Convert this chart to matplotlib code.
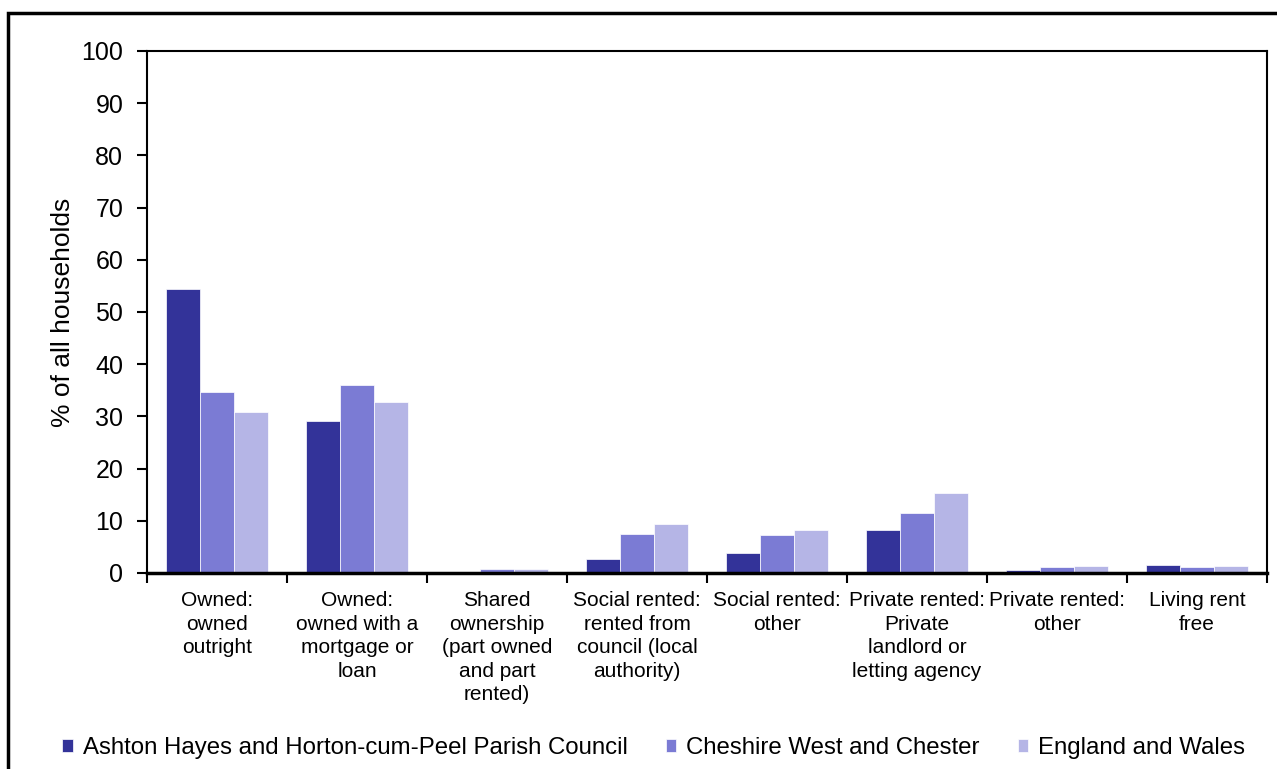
import numpy as np
import matplotlib.pyplot as plt
from matplotlib.patches import Rectangle

plt.rcParams['font.family'] = ['Liberation Sans', 'DejaVu Sans']

categories = [
    "Owned:\nowned\noutright",
    "Owned:\nowned with a\nmortgage or\nloan",
    "Shared\nownership\n(part owned\nand part\nrented)",
    "Social rented:\nrented from\ncouncil (local\nauthority)",
    "Social rented:\nother",
    "Private rented:\nPrivate\nlandlord or\nletting agency",
    "Private rented:\nother",
    "Living rent\nfree",
]
series_names = [
    "Ashton Hayes and Horton-cum-Peel Parish Council",
    "Cheshire West and Chester",
    "England and Wales",
]
parish = [54.4, 29.2, 0.0, 2.6, 3.8, 8.2, 0.5, 1.5]
cheshire = [34.7, 36.0, 0.8, 7.5, 7.3, 11.4, 1.2, 1.2]
england = [30.8, 32.7, 0.8, 9.4, 8.2, 15.3, 1.4, 1.4]
colors = ["#333399", "#7b7bd4", "#b5b5e6"]

fig = plt.figure(figsize=(12.77, 7.69), dpi=100)
ax = fig.add_axes([0.1151, 0.2549, 0.8771, 0.6788])

x = np.arange(len(categories))
w = 0.245
for i, (vals, name) in enumerate(zip([parish, cheshire, england], series_names)):
    ax.bar(x + (i - 1) * w, vals, width=w, color=colors[i], label=name,
           edgecolor="white", linewidth=0.5, zorder=2)

ax.set_xlim(-0.5, len(categories) - 0.5)
ax.set_ylim(0, 100)
ax.set_yticks(range(0, 101, 10))
ax.set_xticks(x)
ax.set_xticklabels(categories, fontsize=15, linespacing=1.3)
ax.set_xticks(np.arange(-0.5, len(categories)), minor=True)
ax.tick_params(axis="x", which="major", length=0, pad=13)
ax.tick_params(axis="x", which="minor", length=7, width=1.5, direction="out")
ax.tick_params(axis="y", length=7, width=1.5, direction="out", labelsize=18, pad=10)
for s in ax.spines.values():
    s.set_linewidth(1.5)
ax.spines["bottom"].set_linewidth(2.5)
ax.set_ylabel("% of all households", fontsize=19, labelpad=5)

fig.legend(loc="center", bbox_to_anchor=(0.512, 0.027), ncol=3, frameon=False,
           fontsize=17.3, handlelength=0.42, handleheight=0.42, handletextpad=0.42,
           columnspacing=1.6)

fig.patches.append(Rectangle((8 / 1277, -0.05), 1.2, 1 - 13 / 769 + 0.05,
                             transform=fig.transFigure, fill=False,
                             edgecolor="black", linewidth=2.5))

fig.savefig("out.png", dpi=100)
